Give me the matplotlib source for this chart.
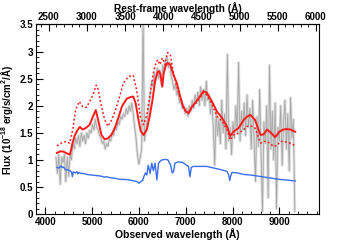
import numpy as np
import matplotlib
matplotlib.use("Agg")
import matplotlib.pyplot as plt
from matplotlib.ticker import MultipleLocator, FixedLocator

plt.rcParams['font.family'] = ['Liberation Sans', 'DejaVu Sans']
plt.rcParams['font.weight'] = 'bold'
plt.rcParams['mathtext.fontset'] = 'custom'
plt.rcParams['mathtext.bf'] = 'Liberation Sans:bold'
plt.rcParams['mathtext.rm'] = 'Liberation Sans:bold'
plt.rcParams['mathtext.default'] = 'bf'

# redshift used for the rest-frame axis
z = 0.63

# observed spectrum (grey), sampled every 30 A from 4230 A
grey_start = 4230
grey_step = 30
grey_flux = [
    1.05, 0.75, 1.10, 0.55, 1.05, 0.95, 1.10, 0.60, 1.05, 0.70,   # 4230
    1.10, 1.00, 1.30, 1.20, 1.40, 1.30, 1.45, 1.25, 1.50, 1.35,   # 4530
    1.45, 1.30, 1.50, 1.40, 1.55, 1.50, 1.65, 1.55, 1.75, 1.60,   # 4830
    1.55, 1.45, 1.40, 1.30, 1.35, 1.20, 1.30, 1.25, 1.40, 1.35,   # 5130
    1.50, 1.45, 1.60, 1.55, 1.70, 1.65, 1.80, 1.75, 1.85, 1.80,   # 5430
    1.95, 1.85, 2.00, 1.90, 2.05, 1.85, 1.60, 1.40, 1.10, 0.92,   # 5730
    1.05, 1.20, 3.60, 1.35, 1.55, 1.75, 1.95, 2.20, 2.45, 2.35,   # 6030
    2.60, 2.45, 2.70, 2.50, 2.65, 2.40, 2.75, 2.65, 2.85, 2.90,   # 6330
    2.70, 2.80, 2.55, 2.45, 2.30, 2.40, 2.20, 2.25, 2.05, 2.10,   # 6630
    1.95, 2.00, 1.85, 1.95, 1.80, 2.00, 1.90, 2.10, 1.95, 2.20,   # 6930
    2.05, 2.25, 2.00, 2.35, 2.10, 2.30, 2.00, 2.45, 2.10, 2.20,   # 7230
    1.85, 2.05, 1.60, 0.90, 1.90, 1.45, 1.75, 1.30, 2.10, 1.50,   # 7530
    1.85, 1.20, 2.95, 1.35, 1.60, 1.10, 1.70, 1.40, 2.00, 1.50,   # 7830
    2.80, 1.35, 1.90, 1.55, 2.05, 1.45, 2.20, 1.60, 1.95, 1.20,   # 8130
    2.10, 1.40, 0.60, 1.80, 1.25, 2.30, 1.10, 0.05, 1.70, 1.30,   # 8430
    2.00, 0.30, 2.75, 1.20, 1.90, 1.00, 2.05, 0.10, 1.60, 1.35,   # 8730
    2.00, 0.90, 1.70, 2.10, 1.20, 1.85, 0.80, 2.15, 1.40, 1.75,   # 9030
    0.05,                                                         # 9330
]

# best-fit model (red solid)
fit_wave = [4250, 4330, 4400, 4460, 4530, 4580, 4630, 4690, 4740, 4800,
            4870, 4950, 5020, 5080, 5130, 5200, 5270, 5340, 5420, 5500,
            5570, 5640, 5740, 5820, 5880, 5930, 5960, 6000, 6040, 6100,
            6170, 6230, 6290, 6350, 6400, 6430, 6460, 6500, 6530, 6570,
            6610, 6670, 6740, 6810, 6880, 6940, 7000, 7060, 7130, 7200,
            7280, 7380, 7450, 7560, 7670, 7780, 7880, 7950, 8020, 8130,
            8240, 8310, 8380, 8480, 8560, 8600, 8660, 8740, 8820, 8910,
            9000, 9080, 9160, 9240, 9340]
fit_flux = [1.13, 1.16, 1.15, 1.12, 1.10, 1.30, 1.45, 1.55, 1.61, 1.56,
            1.59, 1.65, 1.80, 1.92, 1.74, 1.46, 1.38, 1.40, 1.47, 1.62,
            1.80, 1.99, 2.13, 2.16, 2.17, 2.05, 1.90, 1.70, 1.53, 1.46,
            1.56, 1.80, 2.10, 2.48, 2.62, 2.64, 2.58, 2.35, 2.60, 2.73,
            2.79, 2.76, 2.57, 2.42, 2.18, 2.00, 1.90, 1.86, 1.98, 2.05,
            2.14, 2.27, 2.24, 2.08, 1.89, 1.77, 1.62, 1.44, 1.52, 1.59,
            1.74, 1.80, 1.83, 1.74, 1.55, 1.46, 1.47, 1.56, 1.50, 1.42,
            1.52, 1.56, 1.57, 1.56, 1.52]

# alternative model (red dotted)
alt_wave = [4250, 4340, 4450, 4520, 4590, 4650, 4730, 4800, 4880, 4950,
            5020, 5090, 5130, 5200, 5270, 5340, 5420, 5500, 5570, 5670,
            5780, 5880, 5950, 6000, 6030, 6100, 6170, 6240, 6300, 6340,
            6400, 6450, 6500, 6560, 6610, 6670, 6740, 6810, 6880, 6940,
            7000, 7060, 7130, 7200, 7280, 7380, 7450, 7560, 7670, 7780,
            7880, 7950, 8020, 8130, 8240, 8310, 8380, 8480, 8560, 8600,
            8660, 8740, 8800, 8880, 8960, 9020, 9100, 9230, 9340]
alt_flux = [1.26, 1.31, 1.34, 1.31, 1.56, 1.93, 2.08, 1.98, 1.97, 2.08,
            2.20, 2.38, 2.30, 1.99, 1.74, 1.62, 1.74, 1.92, 2.11, 2.42,
            2.54, 2.56, 2.30, 2.00, 1.80, 1.65, 1.83, 2.20, 2.55, 2.73,
            2.85, 2.76, 2.88, 2.76, 2.98, 2.95, 2.60, 2.36, 2.14, 1.98,
            1.90, 1.86, 1.96, 2.03, 2.12, 2.24, 2.20, 2.03, 1.80, 1.71,
            1.56, 1.37, 1.46, 1.49, 1.56, 1.62, 1.63, 1.59, 1.40, 1.31,
            1.34, 1.34, 1.30, 1.25, 1.27, 1.34, 1.34, 1.31, 1.26]

# stellar template (blue)
star_wave = [4250, 4290, 4340, 4360, 4390, 4420, 4450, 4480, 4520, 4560,
             4580, 4600, 4640, 4680, 4700, 4720, 4760, 4820, 4900, 5000,
             5100, 5200, 5260, 5300, 5400, 5500, 5600, 5700, 5800, 5900,
             5960, 6000, 6040, 6080, 6110, 6140, 6170, 6200, 6240, 6275,
             6310, 6345, 6385, 6420, 6460, 6495, 6560, 6620, 6680, 6710,
             6740, 6770, 6830, 6900, 6960, 7020, 7060, 7090, 7120, 7160,
             7300, 7450, 7600, 7750, 7880, 7920, 7940, 7960, 7990, 8100,
             8250, 8400, 8550, 8700, 8850, 9000, 9150, 9340]
star_flux = [0.86, 0.85, 0.89, 0.86, 0.87, 0.83, 0.81, 0.82, 0.80, 0.78,
             0.69, 0.78, 0.76, 0.78, 0.74, 0.77, 0.75, 0.75, 0.73, 0.72,
             0.71, 0.70, 0.68, 0.69, 0.67, 0.66, 0.64, 0.64, 0.63, 0.61,
             0.60, 0.57, 0.60, 0.62, 0.70, 0.76, 0.72, 0.90, 0.75, 0.94,
             0.80, 0.94, 0.63, 0.94, 0.98, 1.00, 1.01, 1.00, 0.90, 0.76,
             0.78, 0.94, 0.96, 0.96, 0.94, 0.90, 0.88, 0.69, 0.86, 0.88,
             0.88, 0.88, 0.85, 0.82, 0.79, 0.72, 0.62, 0.70, 0.77, 0.76,
             0.73, 0.72, 0.70, 0.68, 0.66, 0.64, 0.63, 0.61]

rest_ticks = [2500, 3000, 3500, 4000, 4500, 5000, 5500, 6000]

grey_wave = grey_start + grey_step * np.arange(len(grey_flux))

fig = plt.figure(figsize=(3.55, 2.4), dpi=100)
ax = fig.add_axes([0.101, 0.108, 0.798, 0.79])

ax.plot(grey_wave, grey_flux, color='#dedede', lw=2.0, zorder=1)
ax.plot(grey_wave, grey_flux, color='#a6a6a6', lw=0.6, zorder=2)
ax.plot(star_wave, star_flux, color='#3a6ef0', lw=1.0, zorder=3)
ax.plot(alt_wave, alt_flux, color='#ff1a1a', lw=1.1, ls=(0, (1.2, 1.5)), zorder=4)
ax.plot(fit_wave, fit_flux, color='#ff1a1a', lw=1.4, zorder=5)

ax.set_xlim(3800, 9850)
ax.set_ylim(0, 3.5)
ax.xaxis.set_major_locator(MultipleLocator(1000))
ax.xaxis.set_minor_locator(MultipleLocator(200))
ax.yaxis.set_minor_locator(MultipleLocator(0.1))
ax.set_yticks([0, 0.5, 1, 1.5, 2, 2.5, 3, 3.5])
ax.set_yticklabels(['0', '0.5', '1', '1.5', '2', '2.5', '3', '3.5'])
ax.tick_params(which='both', direction='in', top=False, right=False, labelsize=7, pad=2)
ax.tick_params(which='major', length=5, width=0.8)
ax.tick_params(which='minor', length=2.5, width=0.6)
for s in ax.spines.values():
    s.set_linewidth(0.8)

ax.set_xlabel('Observed wavelength (Å)', fontsize=7.5, fontweight='bold', labelpad=1)
ax.set_ylabel('Flux (10$^{-18}$ erg/s/cm$^2$/Å)', fontsize=7, fontweight='bold', labelpad=3)

top = ax.secondary_xaxis('top', functions=(lambda w: w / (1 + z), lambda r: r * (1 + z)))
top.xaxis.set_major_locator(FixedLocator(rest_ticks))
top.xaxis.set_minor_locator(FixedLocator(np.arange(2400, 6001, 100)))
top.tick_params(which='both', direction='in', labelsize=7, pad=1.5)
top.tick_params(which='major', length=5, width=0.8)
top.tick_params(which='minor', length=2.5, width=0.6)
top.set_xlabel('Rest-frame wavelength (Å)', fontsize=7.3, fontweight='bold', labelpad=0.5)

fig.savefig('out.png', dpi=100)
